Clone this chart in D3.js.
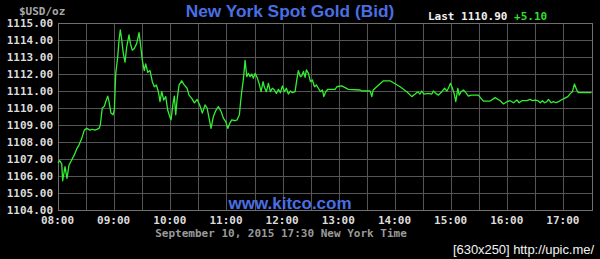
<!DOCTYPE html>
<meta charset="utf-8">
<style>
body {
  margin: 0;
  background: #000;
}

svg {
  display: block;
  background: #000;
}

.grid line {
  stroke: #555;
  stroke-width: 1px;
  shape-rendering: crispEdges;
}

.grid path {
  display: none;
}

.axis text {
  font-family: "DejaVu Sans Mono", monospace;
  font-size: 11px;
  font-weight: bold;
  fill: #dcdcdc;
}

.axis path, .axis line {
  display: none;
}

.frame {
  fill: none;
  stroke: #707070;
  shape-rendering: crispEdges;
}

.price {
  fill: none;
  stroke: #33ee33;
  stroke-width: 1.3px;
  stroke-linejoin: round;
}

.mono {
  font-family: "DejaVu Sans Mono", monospace;
  font-size: 11px;
}

.blue {
  font-family: "Liberation Sans", Arial, sans-serif;
  font-weight: bold;
  fill: #4a6fe3;
}
</style>
<body>
<script src="https://d3js.org/d3.v7.min.js"></script>
<script>

// minutes after 08:00 New York time, and the bid at that minute
var minutes = [0, 2, 4, 5, 7.5, 9.6, 11.8, 14.6, 17.4, 20.3, 22.4, 25.3, 28.1, 30.7, 34.2, 36.7, 39.5, 43.8, 45.2, 47.3,
  49.5, 51, 53.1, 54.5, 56.6, 58.8, 60.2, 61.7, 63.8, 65.2, 66.6, 68.1, 69.8, 71.6, 73.4, 75.9, 77.3, 79.4, 81.5, 84.1,
  86.6, 88, 90.1, 92.2, 93.7, 95.9, 98.3, 100.8, 102.9, 105.1, 107.2, 109, 110.8, 113, 115.1, 117.2, 119.4, 120.8, 122.9, 124.3,
  125.8, 127.2, 129.3, 132.2, 135, 137.9, 140, 142.9, 145.7, 148.6, 151.4, 154.2, 157.1, 159.3, 161.4, 163.5, 166, 168.5, 171.3, 174.2,
  176.7, 179.2, 181.4, 183.5, 185.6, 189.2, 191.3, 193.8, 195.3, 196.3, 198, 199.9, 201.7, 203.4, 205.2, 207, 208.7, 210.6, 212.7, 214.8,
  217, 219.1, 220.5, 222.6, 224.8, 226.9, 229, 231.2, 233.3, 235.5, 237.6, 239.7, 241.9, 244, 246.1, 248.3, 250.4, 253.3, 255.1, 256.8,
  259, 260.5, 262.2, 264, 265.4, 267.6, 269.7, 271.8, 274, 276.1, 278.2, 280.4, 282.5, 284, 286.1, 288.3, 296.1, 297.9, 303.2, 310.3,
  322.8, 324.6, 333.5, 335.3, 336.7, 347.7, 354.8, 365.5, 372.7, 378, 381.6, 384.5, 386.6, 388.7, 390.9, 395.8, 399.4, 401.1, 403.7, 406.5,
  410.1, 412.9, 415.5, 417.1, 419.3, 421.4, 423.2, 425, 427.2, 428.6, 430.7, 433.2, 435.7, 438.5, 441.4, 449.2, 452.8, 454.5, 461.7, 467.1,
  472.4, 476, 479.6, 483.1, 486.7, 490.3, 492.7, 495.6, 500.9, 504.5, 506.9, 509.8, 512.7, 515.2, 517.6, 519.8, 522.3, 524, 526.9, 529.4,
  532, 534.8, 537.6, 541.1, 544.7, 547.5, 549.6, 551.8, 553.9, 556, 570];

var bids = [1106.78, 1106.9, 1106.7, 1105.72, 1106.55, 1105.86, 1106.65, 1106.94, 1107.24, 1107.63, 1107.82, 1108.2, 1108.7, 1108.8, 1108.7, 1108.75, 1108.7, 1108.8, 1109.0, 1110.0,
  1110.1, 1110.37, 1110.7, 1110.37, 1109.7, 1109.6, 1109.9, 1112.04, 1113.0, 1114.0, 1114.6, 1114.0, 1113.2, 1112.7, 1113.6, 1114.3, 1113.8, 1113.4, 1113.5, 1113.8,
  1114.43, 1113.8, 1112.8, 1112.2, 1112.6, 1112.1, 1112.2, 1111.55, 1111.25, 1111.35, 1110.96, 1110.37, 1110.96, 1110.47, 1110.67, 1109.88, 1109.49, 1109.3, 1110.27, 1110.7,
  1109.6, 1110.47, 1111.35, 1111.6, 1111.35, 1111.16, 1110.76, 1110.57, 1110.3, 1110.5, 1110.18, 1109.7, 1110.18, 1110.0, 1109.4, 1108.8, 1109.5, 1109.84, 1110.08, 1109.8,
  1109.4, 1109.2, 1108.8, 1109.1, 1109.3, 1109.25, 1109.3, 1109.6, 1110.47, 1110.96, 1111.65, 1112.8, 1111.84, 1112.04, 1111.84, 1112.0, 1111.75, 1112.04, 1111.8, 1111.45,
  1110.96, 1111.55, 1111.22, 1110.96, 1111.45, 1110.96, 1111.16, 1111.06, 1110.86, 1111.1, 1110.9, 1111.3, 1110.96, 1111.16, 1110.82, 1111.0, 1110.9, 1110.96, 1111.65, 1112.2,
  1111.84, 1111.9, 1112.15, 1111.8, 1112.24, 1112.04, 1111.55, 1111.65, 1111.25, 1111.35, 1111.16, 1110.96, 1111.06, 1110.67, 1110.96, 1111.1, 1111.1, 1111.25, 1111.3, 1111.1,
  1111.06, 1111.0, 1111.0, 1110.67, 1111.06, 1111.6, 1111.6, 1111.25, 1110.96, 1110.67, 1110.82, 1110.96, 1110.82, 1111.0, 1110.82, 1110.86, 1110.82, 1111.0, 1110.86, 1110.76,
  1110.96, 1111.16, 1111.0, 1111.16, 1111.45, 1111.16, 1110.86, 1110.37, 1111.16, 1110.76, 1110.96, 1111.06, 1110.9, 1110.7, 1110.76, 1110.76, 1110.51, 1110.41, 1110.41, 1110.61,
  1110.43, 1110.24, 1110.37, 1110.43, 1110.31, 1110.47, 1110.31, 1110.43, 1110.43, 1110.51, 1110.43, 1110.47, 1110.43, 1110.31, 1110.43, 1110.31, 1110.37, 1110.51, 1110.31, 1110.37,
  1110.31, 1110.37, 1110.47, 1110.57, 1110.67, 1110.86, 1110.96, 1111.41, 1111.1, 1110.9, 1110.9];

var priceTicks = [1104, 1105, 1106, 1107, 1108, 1109, 1110, 1111, 1112, 1113, 1114, 1115];
var hourLabels = ["08:00", "09:00", "10:00", "11:00", "12:00", "13:00", "14:00", "15:00", "16:00", "17:00"];
var gridMinutes = d3.range(30, 570, 30);

var width = 600,
    height = 259,
    plotLeft = 58,
    plotRight = 592.5,
    plotTop = 23,
    plotBottom = 210;

var x = d3.scaleLinear().domain([0, 570]).range([plotLeft, plotRight - 1]);
var y = d3.scaleLinear().domain([1104, 1115]).range([plotBottom, plotTop]);

var svg = d3.select("body").append("svg")
    .attr("width", width)
    .attr("height", height);

svg.append("g")
    .attr("class", "grid")
    .attr("transform", "translate(0," + plotTop + ")")
    .call(d3.axisBottom(x).tickValues(gridMinutes).tickSize(plotBottom - plotTop).tickFormat(""));

svg.append("g")
    .attr("class", "grid")
    .attr("transform", "translate(" + plotLeft + ",0)")
    .call(d3.axisRight(y).tickValues(priceTicks).tickSize(plotRight - plotLeft).tickFormat(""));

svg.append("rect")
    .attr("class", "frame")
    .attr("x", plotLeft + 0.5)
    .attr("y", plotTop + 0.5)
    .attr("width", plotRight - plotLeft - 0.5)
    .attr("height", plotBottom - plotTop);

svg.append("g")
    .attr("class", "axis")
    .attr("transform", "translate(" + (plotLeft - 5) + ",0)")
    .call(d3.axisLeft(y).tickValues(priceTicks).tickSize(0).tickPadding(0).tickFormat(d3.format(".2f")));

svg.append("g")
    .attr("class", "axis")
    .attr("transform", "translate(-1," + (plotBottom + 6) + ")")
    .call(d3.axisBottom(x).tickValues(hourLabels.map(function(d, i) { return i * 60; }))
      .tickSize(0).tickPadding(0).tickFormat(function(d, i) { return hourLabels[i]; }));

var line = d3.line()
    .x(function(d) { return x(d[0]); })
    .y(function(d) { return y(d[1]); });

svg.append("path")
    .attr("class", "price")
    .datum(d3.zip(minutes, bids))
    .attr("d", line);

// titles and captions
svg.append("text")
    .attr("class", "mono")
    .attr("x", 19).attr("y", 15)
    .attr("fill", "#a8a8a8")
    .style("font-weight", "bold")
    .text("$USD/oz");

svg.append("text")
    .attr("class", "blue")
    .attr("x", 290).attr("y", 17)
    .attr("text-anchor", "middle")
    .style("font-size", "17.3px")
    .text("New York Spot Gold (Bid)");

var last = svg.append("text")
    .attr("class", "mono")
    .attr("x", 428).attr("y", 19.5)
    .style("font-weight", "bold");
last.append("tspan").attr("fill", "#f0f0f0").text("Last " + d3.format(".2f")(bids[bids.length - 1]) + " ");
last.append("tspan").attr("fill", "#33dd33").text("+5.10");

svg.append("text")
    .attr("class", "blue")
    .attr("x", 290).attr("y", 209)
    .attr("text-anchor", "middle")
    .style("font-size", "17px")
    .text("www.kitco.com");

svg.append("text")
    .attr("class", "mono")
    .attr("x", 281).attr("y", 236.5)
    .attr("text-anchor", "middle")
    .attr("fill", "#9a9a9a")
    .style("font-weight", "bold")
    .text("September 10, 2015 17:30 New York Time");

svg.append("text")
    .attr("x", 453).attr("y", 254)
    .attr("fill", "#f4f4f4")
    .attr("textLength", 141)
    .style("font-family", "\"Liberation Sans\", Arial, sans-serif")
    .style("font-size", "13px")
    .text("[630x250] http://upic.me/");

</script>
